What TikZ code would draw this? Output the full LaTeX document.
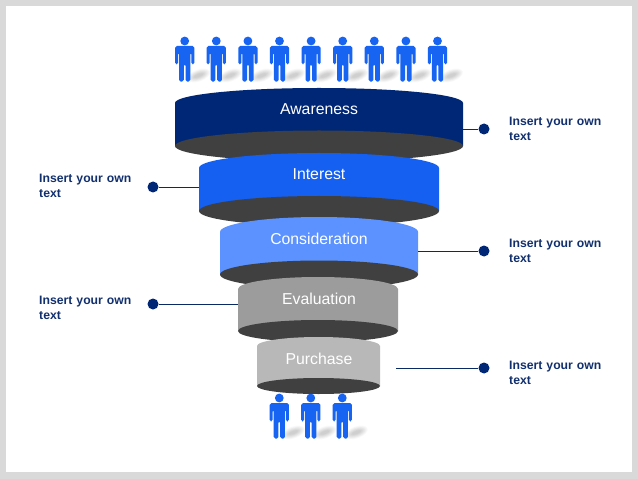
\documentclass[tikz,border=0pt]{standalone}
\usepackage{fontspec}
\setmainfont{Liberation Sans}
\definecolor{navy}{HTML}{002776}
\definecolor{royal}{HTML}{1560F0}
\definecolor{sky}{HTML}{5B92FF}
\definecolor{midgray}{HTML}{9C9C9C}
\definecolor{lightgray2}{HTML}{B8B8B8}
\definecolor{darkdisc}{HTML}{404040}
\definecolor{frame}{HTML}{D9D9D9}
\definecolor{labeltext}{HTML}{12306E}
\definecolor{linecol}{HTML}{0A2A66}
\definecolor{person}{HTML}{1763F2}
\tikzset{
  x=1bp,y=-1bp,
  stagetext/.style={text=white,font=\fontsize{15.8bp}{18bp}\selectfont,inner sep=0pt},
  sidetext/.style={text=labeltext,font=\fontsize{12.2bp}{15.2bp}\selectfont\bfseries,align=left,anchor=north west,inner sep=0pt,text width=110bp},
  dotnode/.style={circle,fill=navy,minimum size=11bp,inner sep=0pt},
  conn/.style={draw=linecol,line width=0.9bp},
}
% \funnelstage{left}{right}{shoulder y}{top ry}{disc centre y}{disc ry}{colour}
\newcommand{\funnelstage}[7]{%
  \fill[#7] (#1,#3) arc [start angle=180,end angle=0,x radius={(#2-#1)/2},y radius=-#4]
     -- (#2,#5) -- (#1,#5) -- cycle;
  \fill[darkdisc] ({(#1+#2)/2},#5) ellipse [x radius={(#2-#1)/2},y radius=#6];
}
\newcommand{\personfig}[2]{%
  \begin{scope}[shift={(#1,#2)}]
    \foreach \w/\h in {12/6,11/5.2,10/4.6,9/4,8/3.4,7/2.8,6/2.2,5/1.6}{
      \fill[black,opacity=0.025,rotate around={20:(14,34.5)}] (14,34.5) ellipse [x radius=\w,y radius=\h];
    }
    \fill[person] (0,0) circle (4.4);
    \fill[person,rounded corners=1.8] (-9.6,5) -- (9.6,5) -- (9.6,23.5) -- (6.6,23.5) -- (6.6,11.5)
       -- (5.6,11.5) -- (5.6,40.7) -- (0.9,40.7) -- (0.9,23) -- (-0.9,23) -- (-0.9,40.7) -- (-5.6,40.7)
       -- (-5.6,11.5) -- (-6.6,11.5) -- (-6.6,23.5) -- (-9.6,23.5) -- cycle;
  \end{scope}%
}
\begin{document}
\begin{tikzpicture}
\useasboundingbox (0,0) rectangle (638,479);
\fill[frame] (0,0) rectangle (638,479);
\fill[white] (6,6) rectangle (632,472);

\foreach \i in {0,...,8}{ \personfig{184.7+31.6*\i}{41} }
\foreach \i in {0,1,2}{ \personfig{279.3+31.5*\i}{398} }

\funnelstage{175}{463}{103}{15}{146}{15.5}{navy}
\funnelstage{199}{439}{168}{15}{211}{15}{royal}
\funnelstage{220}{418}{232}{15}{274.5}{14}{sky}
\funnelstage{238}{398}{289}{12}{331}{11}{midgray}
\funnelstage{257}{380}{346}{9}{386}{8}{lightgray2}

\node[stagetext] (s1) at (319,109) {Awareness};
\node[stagetext] (s2) at (319,174) {Interest};
\node[stagetext] (s3) at (319,239) {Consideration};
\node[stagetext] (s4) at (319,299) {Evaluation};
\node[stagetext] (s5) at (319,359) {Purchase};

\coordinate (a1) at (463,129);
\coordinate (a2) at (199,187);
\coordinate (a3) at (418,251);
\coordinate (a4) at (238,304);
\coordinate (a5) at (396,368);

\node[dotnode] (d1) at (484,129) {};
\node[dotnode] (d2) at (153,187) {};
\node[dotnode] (d3) at (484,251) {};
\node[dotnode] (d4) at (153,304) {};
\node[dotnode] (d5) at (484,368) {};

\draw[conn] (a1) -- (d1);
\draw[conn] (a2) -- (d2);
\draw[conn] (a3) -- (d3);
\draw[conn] (a4) -- (d4);
\draw[conn] (a5) -- (d5);

\node[sidetext] (t1) at (509,117) {Insert your own\\text};
\node[sidetext] (t2) at (39,174) {Insert your own\\text};
\node[sidetext] (t3) at (509,239) {Insert your own\\text};
\node[sidetext] (t4) at (39,296) {Insert your own\\text};
\node[sidetext] (t5) at (509,361) {Insert your own\\text};
\end{tikzpicture}
\end{document}
